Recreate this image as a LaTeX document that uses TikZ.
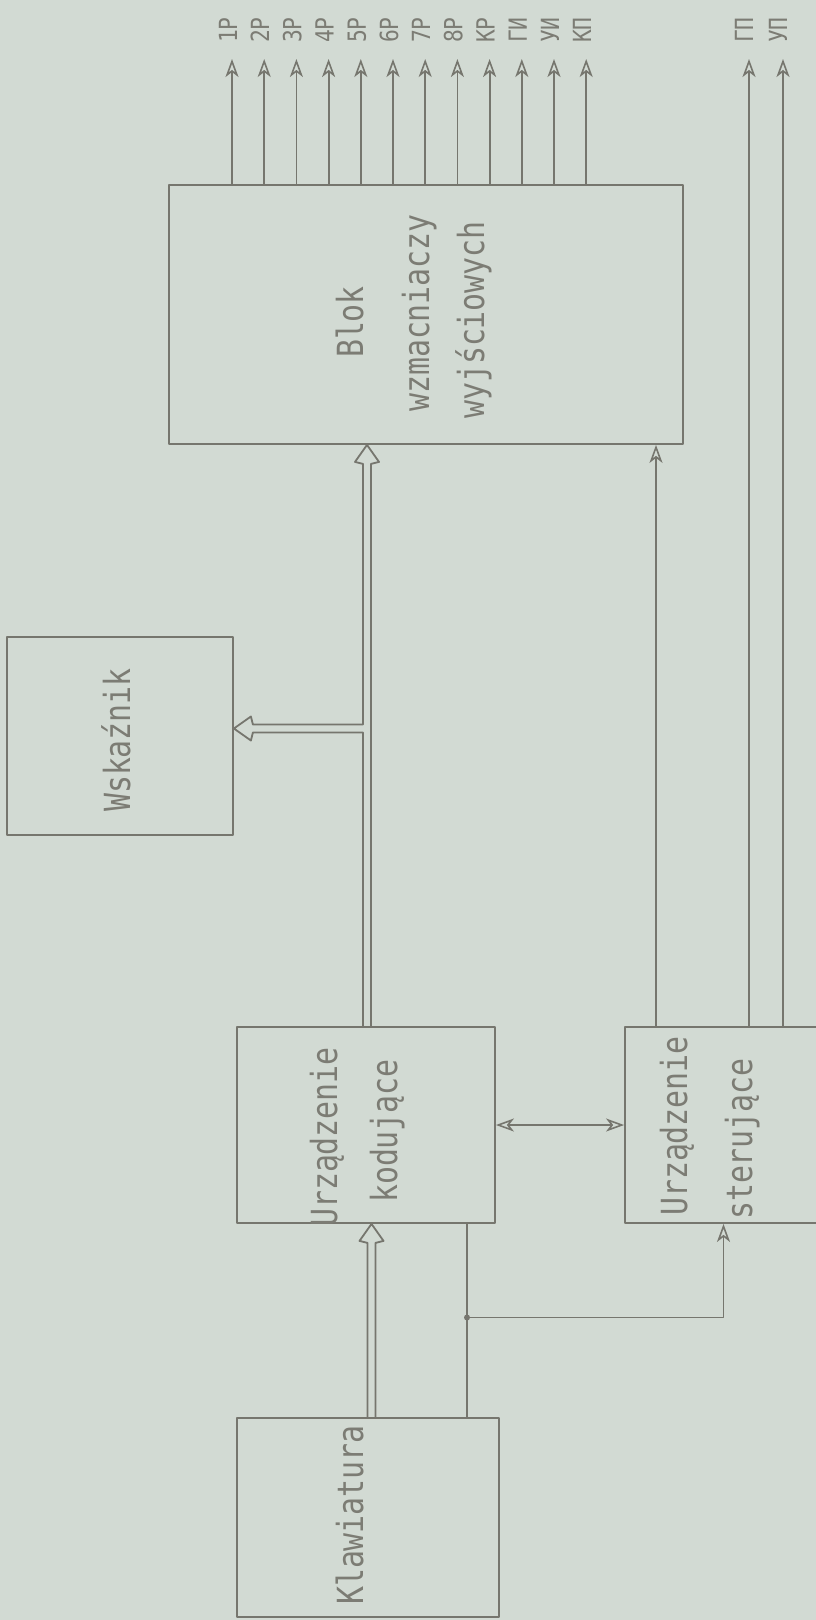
\documentclass[tikz,border=0pt]{standalone}
\usepackage{graphicx}
\usepackage{fontspec}
\newfontfamily\lett{DejaVu Sans Mono}
\usetikzlibrary{arrows.meta,calc}
\definecolor{paper}{RGB}{210,218,211}
\definecolor{ink}{RGB}{118,118,110}
\definecolor{inktext}{RGB}{124,124,116}
\newcommand{\bt}[1]{\scalebox{0.83}[1]{#1}}
\newcommand{\lt}[1]{\scalebox{0.85}[1]{#1}}
\begin{document}
\begin{tikzpicture}[x=1pt,y=-1pt,
  ln/.style={draw=ink,line width=1.8pt,line join=round,line cap=round},
  box/.style={ln,rectangle,inner sep=0pt},
  tip/.tip={Stealth[open,length=18pt,width=13pt,inset=5pt,line width=1.6pt]},
  arr/.style={ln,-tip},
  arrboth/.style={ln,tip-tip},
  txt/.style={rotate=90,anchor=base,inner sep=0pt,text=inktext,font=\lett\fontsize{36}{40}\selectfont},
  lab/.style={rotate=90,anchor=base,inner sep=0pt,text=inktext,font=\lett\fontsize{25}{27}\selectfont}]
\fill[paper] (0,0) rectangle (816,1620);
\useasboundingbox (0,0) rectangle (816,1620);
\begin{scope}
\clip (0,0) rectangle (816,1620);
% boxes
\node[box,minimum width=514pt,minimum height=259pt] (blok) at (426,314.5) {};
\node[box,minimum width=226pt,minimum height=198pt] (wsk) at (120,736) {};
\node[box,minimum width=258pt,minimum height=196pt] (kod) at (366,1125) {};
\node[box,minimum width=205pt,minimum height=196pt] (ster) at (727.5,1125) {};
\node[box,minimum width=262pt,minimum height=199pt] (klaw) at (368,1517.5) {};
% texts
\node[txt] (t1) at (363,322) {\bt{Blok}};
\node[txt] (t2) at (429,313) {\bt{wzmacniaczy}};
\node[txt] (t3) at (484,320) {\bt{wyjściowych}};
\node[txt] (t4) at (130,740) {\bt{Wskaźnik}};
\node[txt] (t5) at (337,1137) {\bt{Urządzenie}};
\node[txt] (t6) at (397,1131) {\bt{kodujące}};
\node[txt] (t7) at (687,1126) {\bt{Urządzenie}};
\node[txt] (t8) at (752,1139) {\bt{sterujące}};
\node[txt] (t9) at (363,1515) {\bt{Klawiatura}};
% output arrows
\foreach \i/\t in {0/1Р,1/2Р,2/3Р,3/4Р,4/5Р,5/6Р,6/7Р,7/8Р,8/КР,9/ГИ,10/УИ,11/КП}{
  \pgfmathsetmacro\xx{232+32.2*\i}
  \coordinate (o\i) at (\xx,59);
  \draw[arr] (blok.north -| o\i) -- (o\i);
  \node[lab] (l\i) at (\xx+5,30) {\lt{\t}};
}
\coordinate (gp) at (749,59);
\coordinate (up) at (783,59);
\draw[arr] (ster.north -| gp) -- (gp);
\draw[arr] (ster.north -| up) -- (up);
\node[lab] (lgp) at (753,30) {\lt{ГП}};
\node[lab] (lup) at (787,30) {\lt{УП}};
% sterujace -> blok
\coordinate (sb) at (656,0);
\draw[arr] (ster.north -| sb) -- (blok.south -| sb);
% kodujace <-> sterujace
\draw[arrboth] (kod.east) -- (ster.west);
% main bus kod -> blok with branch to wskaznik
\coordinate (bx) at (367,0);
\coordinate (b0) at (kod.north -| bx);
\coordinate (b1) at (blok.south -| bx);
\coordinate (jy) at (0,728.5);
\coordinate (w1) at (wsk.east |- jy);
\coordinate (j1) at (bx |- jy);
\draw[ln] ($(b0)+(4,0)$) -- ($(b1)+(4,19)$) -- ($(b1)+(12,17)$) -- (b1) -- ($(b1)+(-12,17)$) -- ($(b1)+(-4,19)$)
  -- ($(j1)+(-4,-4)$) -- ($(w1)+(19,-4)$) -- ($(w1)+(17,-12)$) -- (w1) -- ($(w1)+(17,12)$) -- ($(w1)+(19,4)$)
  -- ($(j1)+(-4,4)$) -- ($(b0)+(-4,0)$);
% bus klaw -> kod
\coordinate (kx) at (371.5,0);
\coordinate (k0) at (klaw.north -| kx);
\coordinate (k1) at (kod.south -| kx);
\draw[ln] ($(k0)+(-4,0)$) -- ($(k1)+(-4,19)$) -- ($(k1)+(-12,17)$) -- (k1) -- ($(k1)+(12,17)$) -- ($(k1)+(4,19)$) -- ($(k0)+(4,0)$);
% single line klaw - kod with branch to sterujace
\coordinate (sx) at (467,0);
\coordinate (jn) at (467,1317.5);
\coordinate (sx2) at (723.5,0);
\draw[ln] (klaw.north -| sx) -- (kod.south -| sx);
\fill[ink] (jn) circle (3pt);
\draw[arr] (jn) -| (ster.south -| sx2);
\end{scope}
\end{tikzpicture}
\end{document}
